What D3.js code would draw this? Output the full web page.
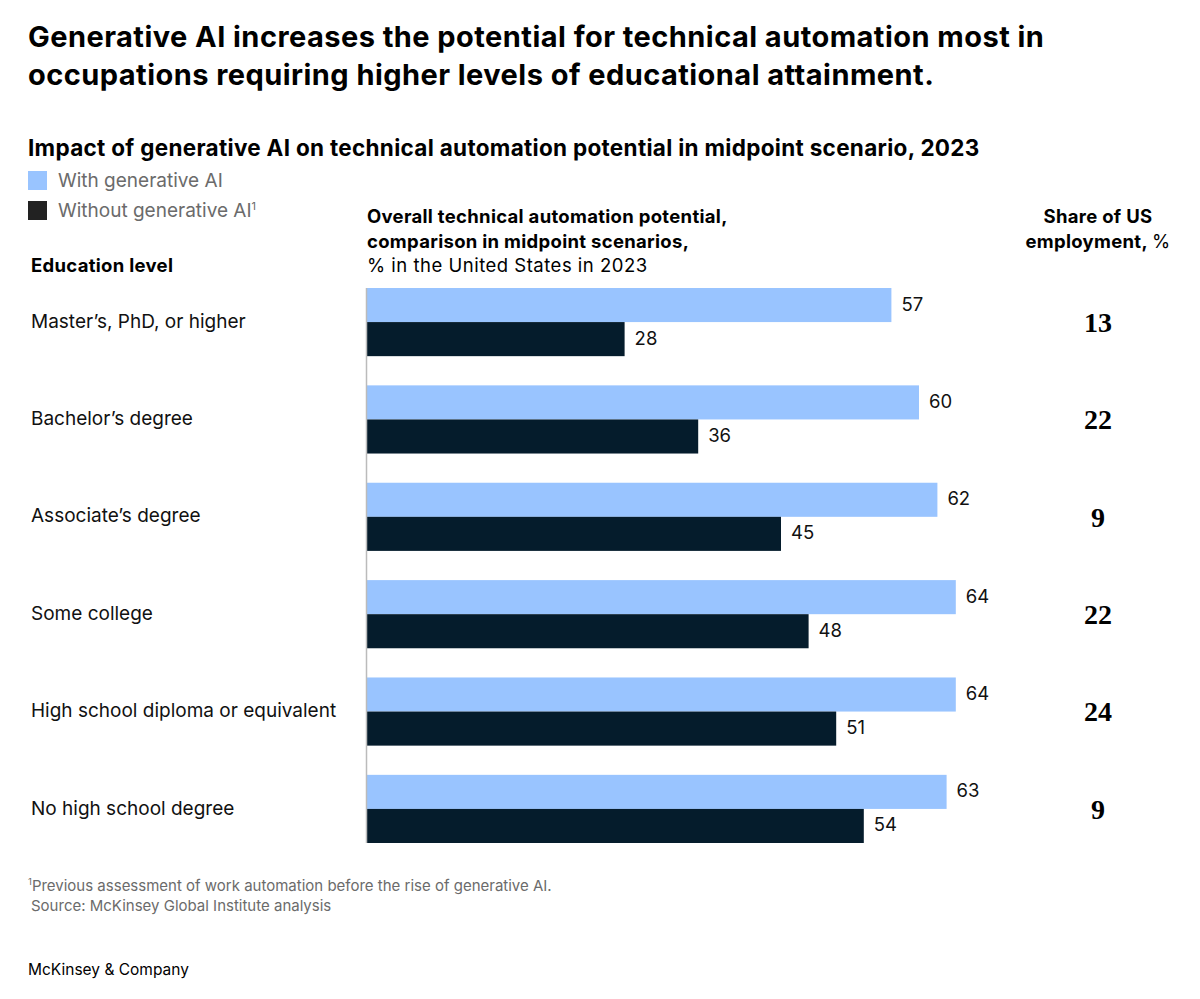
<!DOCTYPE html>
<html>
<head>
<meta charset="utf-8">
<script src="https://cdn.jsdelivr.net/npm/d3@7"></script>
<style>
  body { margin: 0; background: #fff; }
  svg text { font-family: Inter, "Noto Sans", sans-serif; }
</style>
</head>
<body>
<svg id="chart" width="1200" height="999"></svg>
<script>
// chart data
var categories = [
    "Master\u2019s, PhD, or higher",
    "Bachelor\u2019s degree",
    "Associate\u2019s degree",
    "Some college",
    "High school diploma or equivalent",
    "No high school degree"
];
var withGenAI = [57, 60, 62, 64, 64, 63];
var withoutGenAI = [28, 36, 45, 48, 51, 54];
var employmentShare = [13, 22, 9, 22, 24, 9];
var seriesNames = ["With generative AI", "Without generative AI"];

var LIGHT = "#99c4ff";
var DARK = "#051c2c";

var svg = d3.select("#chart");

// titles
var title = svg.append("text")
    .attr("x", 28).attr("y", 47)
    .style("font-size", "29px").style("font-weight", 700).style("fill", "#000")
    .style("letter-spacing", "0.45px");
title.append("tspan").attr("x", 28).text("Generative AI increases the potential for technical automation most in");
title.append("tspan").attr("x", 28).attr("dy", 38).text("occupations requiring higher levels of educational attainment.");

svg.append("text")
    .attr("x", 28).attr("y", 156)
    .style("font-size", "22.5px").style("font-weight", 700).style("fill", "#000")
    .style("letter-spacing", "0.3px")
    .text("Impact of generative AI on technical automation potential in midpoint scenario, 2023");

// legend
var legend = svg.selectAll("g.legend")
    .data(seriesNames)
    .enter().append("g")
    .attr("class", "legend")
    .attr("transform", function(d, i) { return "translate(28," + (171 + i * 30) + ")"; });
legend.append("rect")
    .attr("width", 19).attr("height", 19)
    .style("fill", function(d, i) { return i ? "#222" : LIGHT; });
var legendText = legend.append("text")
    .attr("x", 30).attr("y", 16)
    .style("font-size", "19px").style("fill", "#6b6b6b")
    .text(function(d) { return d; });
legendText.filter(function(d, i) { return i == 1; })
    .append("tspan").attr("dy", -7).style("font-size", "11px").text("1");

// column headers
var hdr = svg.append("text").attr("x", 367).attr("y", 223)
    .style("font-size", "18.5px").style("fill", "#000").style("letter-spacing", "0.3px");
hdr.append("tspan").attr("x", 367).style("font-weight", 700).text("Overall technical automation potential,");
hdr.append("tspan").attr("x", 367).attr("dy", 25).style("font-weight", 700).text("comparison in midpoint scenarios,");
hdr.append("tspan").attr("x", 367).attr("dy", 24).style("letter-spacing", "0.5px").text("% in the United States in 2023");

svg.append("text").attr("x", 31).attr("y", 272)
    .style("font-size", "18.5px").style("font-weight", 700).style("fill", "#000")
    .style("letter-spacing", "0.3px")
    .text("Education level");

var shareHdr = svg.append("text").attr("y", 223)
    .attr("text-anchor", "middle")
    .style("font-size", "18.5px").style("fill", "#000").style("letter-spacing", "0.3px");
shareHdr.append("tspan").attr("x", 1098).style("font-weight", 700).text("Share of US");
shareHdr.append("tspan").attr("x", 1098).attr("dy", 25).style("font-weight", 700).text("employment, ")
    .append("tspan").style("font-weight", 400).text("%");

// scales
var y = d3.scaleBand()
    .domain(categories)
    .range([288, 843])
    .paddingInner(0.3)
    .paddingOuter(0);

var ySub = d3.scaleBand()
    .domain([0, 1])
    .range([0, y.bandwidth()]);

var x = d3.scaleLinear()
    .domain([0, 64])
    .range([367, 367 + 64 * 9.2]);

var rows = categories.map(function(c, i) {
    return { cat: c, vals: [withGenAI[i], withoutGenAI[i]], share: employmentShare[i] };
});

var groups = svg.selectAll("g.row")
    .data(rows)
    .enter().append("g")
    .attr("class", "row")
    .attr("transform", function(d) { return "translate(0," + y(d.cat) + ")"; });

groups.selectAll("rect.bar")
    .data(function(d) { return d.vals; })
    .enter().append("rect")
    .attr("class", "bar")
    .attr("x", x(0))
    .attr("y", function(d, i) { return ySub(i); })
    .attr("width", function(d) { return x(d) - x(0); })
    .attr("height", ySub.bandwidth())
    .style("fill", function(d, i) { return i ? DARK : LIGHT; });

groups.selectAll("text.val")
    .data(function(d) { return d.vals; })
    .enter().append("text")
    .attr("class", "val")
    .attr("x", function(d) { return x(d) + 10; })
    .attr("y", function(d, i) { return ySub(i) + ySub.bandwidth() / 2 - 1; })
    .attr("dy", "0.35em")
    .style("font-size", "18.5px").style("fill", "#111")
    .text(function(d) { return d; });

groups.append("text")
    .attr("x", 31)
    .attr("y", y.bandwidth() / 2 - 1)
    .attr("dy", "0.35em")
    .style("font-size", "19px").style("fill", "#111")
    .text(function(d) { return d.cat; });

groups.append("text")
    .attr("x", 1098)
    .attr("y", y.bandwidth() / 2)
    .attr("dy", "0.35em")
    .attr("text-anchor", "middle")
    .style("font-family", "'Liberation Serif', 'DejaVu Serif', serif")
    .style("font-size", "28px").style("font-weight", 700).style("fill", "#000")
    .text(function(d) { return d.share; });

// baseline
svg.append("line")
    .attr("x1", x(0) - 0.5).attr("x2", x(0) - 0.5)
    .attr("y1", y.range()[0]).attr("y2", y.range()[1])
    .style("stroke", "#bbb").style("stroke-width", 1.5);

// footnotes
var foot = svg.append("text").attr("x", 28).attr("y", 891)
    .style("font-size", "15px").style("fill", "#6b6b6b");
foot.append("tspan").attr("dy", -6).style("font-size", "9.5px").text("1");
foot.append("tspan").attr("dy", 6).text("Previous assessment of work automation before the rise of generative AI.");
svg.append("text").attr("x", 31).attr("y", 911)
    .style("font-size", "15px").style("fill", "#6b6b6b")
    .text("Source: McKinsey Global Institute analysis");

svg.append("text").attr("x", 28).attr("y", 975)
    .style("font-size", "15.5px").style("fill", "#000")
    .text("McKinsey & Company");
</script>
</body>
</html>
